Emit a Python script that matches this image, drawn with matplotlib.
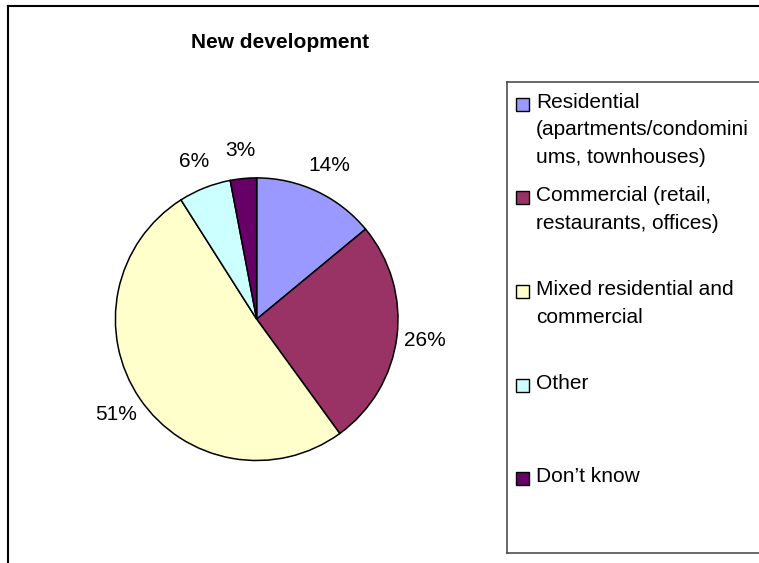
import matplotlib
matplotlib.use("Agg")
import matplotlib.pyplot as plt
from matplotlib.patches import Rectangle
from matplotlib.lines import Line2D

# Survey results: type of new development preferred
title = "New development"
categories = [
    "Residential\n(apartments/condomini\nums, townhouses)",
    "Commercial (retail,\nrestaurants, offices)",
    "Mixed residential and\ncommercial",
    "Other",
    "Don\u2019t know",
]
shares = [14, 26, 51, 6, 3]
colors = ["#9999FF", "#993366", "#FFFFCC", "#CCFFFF", "#660066"]

W, H = 759, 563
DPI = 100
FONT = "Liberation Sans"

fig = plt.figure(figsize=(W / DPI, H / DPI), dpi=DPI, facecolor="white")


def fx(px):
    return px / W


def fy(py):
    return 1 - py / H


# Chart-area frame (left and top edges visible)
fig.add_artist(Line2D([fx(7.5), fx(7.5)], [fy(6), fy(H + 5)], color="black",
                      lw=1.5, transform=fig.transFigure))
fig.add_artist(Line2D([fx(7.5), fx(W + 5)], [fy(6), fy(6)], color="black",
                      lw=1.5, transform=fig.transFigure))

# Title
fig.text(fx(280), fy(42), title, ha="center", va="center", fontsize=15,
         fontweight="bold", family=FONT)

# Pie axes: center (256.7, 319.2) px, radius 141.3 px, limits +/-1.5
cx, cy, r = 256.7, 319.2, 141.3
half = 1.5 * r
ax = fig.add_axes([fx(cx - half), fy(cy + half), 2 * half / W, 2 * half / H])
wedges, texts, autotexts = ax.pie(
    shares,
    colors=colors,
    startangle=90,
    counterclock=False,
    autopct="%1.0f%%",
    pctdistance=1.2,
    wedgeprops=dict(edgecolor="black", linewidth=1.1),
    textprops=dict(fontsize=15, family=FONT, color="black"),
)
for t in autotexts:
    t.set_clip_on(False)
ax.set_xlim(-1.5, 1.5)
ax.set_ylim(-1.5, 1.5)
ax.set_aspect("equal")
ax.axis("off")

# Legend box (right edge runs past the figure)
lx0, ly0, ly1 = 507.5, 82, 553
for xs, ys in [([lx0, lx0], [ly0, ly1]), ([lx0, W + 5], [ly0, ly0]),
               ([lx0, W + 5], [ly1, ly1])]:
    fig.add_artist(Line2D([fx(v) for v in xs], [fy(v) for v in ys],
                          color="#404040", lw=1.1, transform=fig.transFigure))

first_center, step = 104, 93.7
sq = 13
line_px = 27.7
for i, (label, col) in enumerate(zip(categories, colors)):
    yc = first_center + i * step
    fig.add_artist(Rectangle((fx(516), fy(yc + sq / 2)), sq / W, sq / H,
                             facecolor=col, edgecolor="black", lw=1.0,
                             transform=fig.transFigure))
    for k, line in enumerate(label.split("\n")):
        fig.text(fx(536), fy(yc - 11.5 + k * line_px), line, ha="left",
                 va="top", fontsize=15, family=FONT, color="black")

fig.savefig("out.png", dpi=DPI, facecolor="white")
